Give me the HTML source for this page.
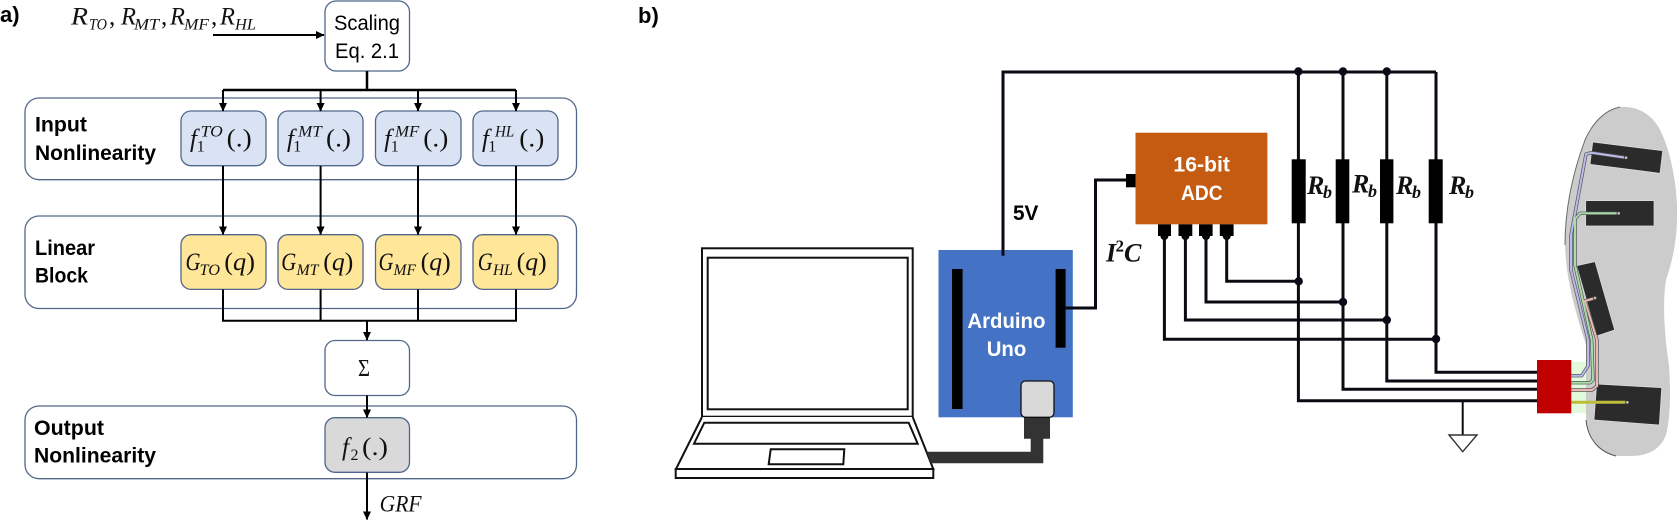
<!DOCTYPE html>
<html><head><meta charset="utf-8"><style>
html,body{margin:0;padding:0;background:#fff;width:1677px;height:521px;overflow:hidden}
svg{display:block}
text{font-family:"Liberation Sans",sans-serif;fill:#000}
.b{font-weight:bold;font-size:21px}
.r{font-size:21px}
.w{font-weight:bold;font-size:21px;fill:#fff}
.m{font-family:"Liberation Serif",serif;font-style:italic;font-size:25px;fill:#111}
.s{font-family:"Liberation Serif",serif;font-style:italic;font-size:15.5px;fill:#111}
.n{font-family:"Liberation Serif",serif;font-size:25px;fill:#111}
.n1{font-family:"Liberation Serif",serif;font-size:16px;fill:#111}
.i{font-style:italic}
.rb{font-family:"Liberation Serif",serif;font-style:italic;font-weight:bold;font-size:26px;fill:#111}
.rs{font-family:"Liberation Serif",serif;font-style:italic;font-weight:bold;font-size:18px;fill:#111}
</style></head><body>
<svg width="1677" height="521" viewBox="0 0 1677 521" xmlns="http://www.w3.org/2000/svg">
<defs><marker id="a" markerWidth="9" markerHeight="8" refX="8" refY="4" orient="auto" markerUnits="userSpaceOnUse"><path d="M0,0L8.5,4L0,8Z" fill="#000"/></marker></defs>

<!-- Panel a groups -->
<g fill="#fff" stroke="#51678a" stroke-width="1.3">
<rect x="25" y="98" width="551.5" height="81.7" rx="14"/>
<rect x="25" y="216" width="551.5" height="92.5" rx="14"/>
<rect x="25" y="406" width="551.5" height="72.7" rx="14"/>
<rect x="325" y="1" width="84.5" height="70" rx="11"/>
<rect x="325" y="340.5" width="84.5" height="55" rx="10"/>
</g>
<g stroke="#51678a" stroke-width="1.3" fill="#DAE3F3">
<rect x="181" y="111" width="85" height="54.7" rx="10"/>
<rect x="278" y="111" width="85" height="54.7" rx="10"/>
<rect x="375.5" y="111" width="85.5" height="54.7" rx="10"/>
<rect x="473" y="111" width="85" height="54.7" rx="10"/>
</g>
<g stroke="#51678a" stroke-width="1.3" fill="#FFE699">
<rect x="181" y="234.7" width="85" height="54.7" rx="10"/>
<rect x="278" y="234.7" width="85" height="54.7" rx="10"/>
<rect x="375.5" y="234.7" width="85.5" height="54.7" rx="10"/>
<rect x="473" y="234.7" width="85" height="54.7" rx="10"/>
</g>
<rect x="325" y="417.7" width="84.5" height="54.6" rx="10" fill="#D9D9D9" stroke="#51678a" stroke-width="1.3"/>

<!-- Panel a connectors -->
<g fill="none" stroke="#000" stroke-width="2">
<path d="M213,35H324" marker-end="url(#a)"/>
<path d="M367,71V90" stroke-width="2.5"/>
<path d="M223,90H516" stroke-width="2.5"/>
<path d="M223,90V111" marker-end="url(#a)"/><path d="M320.6,90V111" marker-end="url(#a)"/><path d="M418,90V111" marker-end="url(#a)"/><path d="M516,90V111" marker-end="url(#a)"/>
<path d="M223,166V234.5" marker-end="url(#a)"/><path d="M320.6,166V234.5" marker-end="url(#a)"/><path d="M418,166V234.5" marker-end="url(#a)"/><path d="M516,166V234.5" marker-end="url(#a)"/>
<path d="M223,289.5V320.7H516V289.5M320.6,289.5V320.7M418,289.5V320.7" stroke-width="2"/>
<path d="M367,320.7V340" marker-end="url(#a)"/>
<path d="M367,395.5V417.5" marker-end="url(#a)"/>
<path d="M367,472.5V519.5" marker-end="url(#a)"/>
</g>

<!-- Panel a text -->
<text x="0" y="22" class="b" style="font-size:22px">a)</text>
<text x="638" y="23" class="b" style="font-size:22px">b)</text>
<text x="35" y="131.7" class="b" textLength="52" lengthAdjust="spacingAndGlyphs">Input</text>
<text x="35" y="160" class="b" textLength="121" lengthAdjust="spacingAndGlyphs">Nonlinearity</text>
<text x="35" y="255" class="b" textLength="60" lengthAdjust="spacingAndGlyphs">Linear</text>
<text x="35" y="282.7" class="b" textLength="53" lengthAdjust="spacingAndGlyphs">Block</text>
<text x="34" y="435" class="b" textLength="70" lengthAdjust="spacingAndGlyphs">Output</text>
<text x="34" y="462.7" class="b" textLength="122" lengthAdjust="spacingAndGlyphs">Nonlinearity</text>
<text x="334" y="30" class="r" textLength="66" lengthAdjust="spacingAndGlyphs">Scaling</text>
<text x="335" y="58" class="r" textLength="64" lengthAdjust="spacingAndGlyphs">Eq. 2.1</text>

<text x="71" y="24.3" class="m" textLength="17" lengthAdjust="spacingAndGlyphs">R</text><text x="89" y="29.3" class="s" textLength="18" lengthAdjust="spacingAndGlyphs">TO</text><text x="109" y="24.3" class="n">,</text>
<text x="121" y="24.3" class="m" textLength="15" lengthAdjust="spacingAndGlyphs">R</text><text x="134" y="29.3" class="s" textLength="25" lengthAdjust="spacingAndGlyphs">MT</text><text x="161" y="24.3" class="n">,</text>
<text x="170" y="24.3" class="m" textLength="15" lengthAdjust="spacingAndGlyphs">R</text><text x="184" y="29.3" class="s" textLength="25" lengthAdjust="spacingAndGlyphs">MF</text><text x="211" y="24.3" class="n">,</text>
<text x="220" y="24.3" class="m" textLength="15" lengthAdjust="spacingAndGlyphs">R</text><text x="235" y="29.3" class="s" textLength="21" lengthAdjust="spacingAndGlyphs">HL</text>

<g>
<text x="190" y="146.7" class="m">f</text><text x="196.7" y="151.7" class="n1">1</text><text x="200.7" y="136.7" class="s" textLength="22" lengthAdjust="spacingAndGlyphs">TO</text><text x="226.7" y="146.7" class="n" textLength="25" lengthAdjust="spacingAndGlyphs">(.)</text>
<text x="287" y="146.7" class="m">f</text><text x="293.3" y="151.7" class="n1">1</text><text x="298.3" y="136.7" class="s" textLength="23.4" lengthAdjust="spacingAndGlyphs">MT</text><text x="326" y="146.7" class="n" textLength="25" lengthAdjust="spacingAndGlyphs">(.)</text>
<text x="384.3" y="146.7" class="m">f</text><text x="390.7" y="151.7" class="n1">1</text><text x="395" y="136.7" class="s" textLength="24.3" lengthAdjust="spacingAndGlyphs">MF</text><text x="423.3" y="146.7" class="n" textLength="25" lengthAdjust="spacingAndGlyphs">(.)</text>
<text x="482" y="146.7" class="m">f</text><text x="488.3" y="151.7" class="n1">1</text><text x="495" y="136.7" class="s" textLength="19.3" lengthAdjust="spacingAndGlyphs">HL</text><text x="519.3" y="146.7" class="n" textLength="25" lengthAdjust="spacingAndGlyphs">(.)</text>

<text x="185.5" y="270" class="m" textLength="15" lengthAdjust="spacingAndGlyphs">G</text><text x="199.5" y="275" class="s" textLength="20.5" lengthAdjust="spacingAndGlyphs">TO</text><text x="224.3" y="270" class="n" textLength="30.7" lengthAdjust="spacingAndGlyphs">(<tspan class="i">q</tspan>)</text>
<text x="281.2" y="270" class="m" textLength="15" lengthAdjust="spacingAndGlyphs">G</text><text x="296.5" y="275" class="s" textLength="22" lengthAdjust="spacingAndGlyphs">MT</text><text x="323.3" y="270" class="n" textLength="30" lengthAdjust="spacingAndGlyphs">(<tspan class="i">q</tspan>)</text>
<text x="378.5" y="270" class="m" textLength="15" lengthAdjust="spacingAndGlyphs">G</text><text x="393.5" y="275" class="s" textLength="22.5" lengthAdjust="spacingAndGlyphs">MF</text><text x="420.7" y="270" class="n" textLength="30" lengthAdjust="spacingAndGlyphs">(<tspan class="i">q</tspan>)</text>
<text x="477.8" y="270" class="m" textLength="15" lengthAdjust="spacingAndGlyphs">G</text><text x="493" y="275" class="s" textLength="19.7" lengthAdjust="spacingAndGlyphs">HL</text><text x="516.7" y="270" class="n" textLength="30" lengthAdjust="spacingAndGlyphs">(<tspan class="i">q</tspan>)</text>

<text x="342" y="455" class="m">f</text><text x="350.5" y="460" class="n1">2</text><text x="362" y="455" class="n" textLength="26" lengthAdjust="spacingAndGlyphs">(.)</text>
<text x="358" y="376" class="n" textLength="12" lengthAdjust="spacingAndGlyphs" style="font-size:24px">Σ</text>
<text x="379.6" y="511.7" class="m" textLength="42" lengthAdjust="spacingAndGlyphs" style="font-size:23px">GRF</text>
</g>

<!-- Panel b: laptop -->
<g fill="#fff" stroke="#111" stroke-width="2">
<rect x="702" y="248.3" width="210.7" height="168.4"/>
<rect x="707.7" y="257.7" width="200" height="151.6"/>
<path d="M702,417L676,469H933.3L912.7,417"/>
<rect x="675.7" y="469" width="257.6" height="9"/>
<path d="M704.3,422.7H908.7L917.7,443.7H694Z"/>
<path d="M770.7,449.3H844.3L843.3,464.3H768.7Z"/>
</g>

<!-- cable -->
<path d="M926.7,451.7H1030.7V438.7H1024V417H1050V438.7H1043.3V463.3H931Z" fill="#333"/>

<!-- Arduino -->
<rect x="938.5" y="250" width="134.3" height="167.3" fill="#4472C4"/>
<rect x="952" y="269" width="10.6" height="140" fill="#000"/>
<rect x="1055.6" y="269" width="10" height="78.7" fill="#000"/>
<rect x="1021" y="381" width="33" height="36.3" rx="4.5" fill="#D9D9D9" stroke="#111" stroke-width="1.3"/>
<text x="967.4" y="328" class="w" textLength="78" lengthAdjust="spacingAndGlyphs">Arduino</text>
<text x="986.7" y="356" class="w" textLength="39.6" lengthAdjust="spacingAndGlyphs">Uno</text>

<!-- ADC -->
<rect x="1135.5" y="132.7" width="131.9" height="91.6" fill="#C55A11"/>
<rect x="1126" y="174" width="9.5" height="13.3" fill="#000"/>
<g fill="#000">
<rect x="1158" y="224.3" width="13" height="11.7"/><rect x="1178.5" y="224.3" width="13.8" height="11.7"/><rect x="1199" y="224.3" width="13.6" height="11.7"/><rect x="1219.8" y="224.3" width="13.8" height="11.7"/>
<circle cx="1164.4" cy="236" r="4"/><circle cx="1185.4" cy="236" r="4"/><circle cx="1206" cy="236" r="4"/><circle cx="1226.7" cy="236" r="4"/>
</g>
<text x="1173.4" y="171.7" class="w" textLength="56.6" lengthAdjust="spacingAndGlyphs">16-bit</text>
<text x="1181" y="200" class="w" textLength="41.6" lengthAdjust="spacingAndGlyphs">ADC</text>

<!-- Insole -->
<path d="M1620,107C1635,106 1650,112 1659,128C1670,148 1676,180 1677,205C1678,240 1672,262 1666,280C1662,305 1665,340 1669,365C1671,395 1670,420 1666,435C1660,450 1648,456 1630,456L1616,456C1600,452 1588,440 1586,420L1586,345C1575,310 1566,280 1565,245C1565,210 1572,175 1585,140C1593,122 1605,110 1620,107Z" fill="#CCCCCC"/>
<path d="M1565,245C1565,210 1572,175 1585,140C1593,122 1605,110 1620,107" fill="none" stroke="#5f7060" stroke-width="1"/>
<path d="M1586,420C1588,440 1600,452 1616,456" fill="none" stroke="#555" stroke-width="1"/>
<rect x="1571" y="361.7" width="15" height="51.3" fill="#E2F9DC"/>
<g fill="#2B2B2B" stroke="#e0e0e0" stroke-width="0.7">
<path d="M1592.7,142L1662.7,150.7L1660,173.3L1590,164.3Z"/>
<path d="M1585.7,200.7H1654V226H1585.7Z"/>
<path d="M1576.7,265.7L1595,261.7L1614.7,330L1596.7,336Z"/>
<path d="M1596.7,384L1661.7,387.7L1659.3,425L1594,420Z"/>
</g>
<!-- wires -->
<g fill="none" stroke-linejoin="round">
<g stroke="#555" stroke-width="3.4">
<path d="M1626,157.7L1591.7,152.7L1586,154L1571,235V270L1588,340V366L1581.7,375.7H1571"/>
<path d="M1618.7,213.3H1580L1575,219V265L1591.7,340L1593,380L1590,382.7H1571"/>
<path d="M1595,298L1585,301L1597,340V386L1592,390H1571"/>
</g>
<path d="M1626,157.7L1591.7,152.7L1586,154L1571,235V270L1588,340V366L1581.7,375.7H1571" stroke="#B9BBEE" stroke-width="2"/>
<path d="M1618.7,213.3H1580L1575,219V265L1591.7,340L1593,380L1590,382.7H1571" stroke="#A8DDA8" stroke-width="2"/>
<path d="M1595,298L1585,301L1597,340V386L1592,390H1571" stroke="#EDB8B4" stroke-width="2"/>
<path d="M1571,402.3H1627.3" stroke="#BDBD3C" stroke-width="3"/>
</g>
<g fill="#bbb" stroke="#222" stroke-width="0.7">
<circle cx="1626" cy="157.7" r="1.8"/><circle cx="1618.7" cy="213.3" r="1.8"/><circle cx="1595" cy="298" r="1.8"/><circle cx="1627.3" cy="402.3" r="1.8"/>
</g>
<rect x="1537" y="360" width="34.3" height="53.3" fill="#C00000"/>

<!-- Wires panel b -->
<g fill="none" stroke="#0a0a12" stroke-width="3">
<path d="M1003,255.7V72H1436"/>
<path d="M1298.4,72V400.7H1537"/>
<path d="M1343,72V389.3H1537"/>
<path d="M1386.8,72V381H1537"/>
<path d="M1436,72V372.3H1537"/>
<path d="M1065.6,308H1095.5V180H1126"/>
<path d="M1226.7,236V281.3H1298.4"/>
<path d="M1206,236V302H1343"/>
<path d="M1185.4,236V320H1386.8"/>
<path d="M1164.4,236V339.3H1436"/>
<path d="M1462.7,401V435" stroke-width="2"/>
</g>
<path d="M1449,435H1477L1462.7,451.7Z" fill="#fff" stroke="#333" stroke-width="1.4"/>
<g fill="#000">
<rect x="1291.7" y="159.3" width="14" height="64"/>
<rect x="1335.7" y="159.3" width="13.6" height="64"/>
<rect x="1380" y="159.3" width="13.4" height="64"/>
<rect x="1428.7" y="159.3" width="14" height="64"/>
</g>
<g fill="#0a0a18">
<circle cx="1298.4" cy="71.5" r="4.2"/><circle cx="1343" cy="71.5" r="4.2"/><circle cx="1386.8" cy="71.5" r="4.2"/>
<circle cx="1298.7" cy="281.3" r="4.2"/><circle cx="1343" cy="302" r="4.2"/><circle cx="1386.8" cy="320" r="4.2"/><circle cx="1436" cy="339" r="4.2"/>
</g>

<text x="1013" y="220" class="b" textLength="25.4" lengthAdjust="spacingAndGlyphs">5V</text>
<text x="1106" y="261.7" class="rb">I</text><text x="1115.5" y="251.7" class="n1" style="font-weight:bold;font-size:17px">2</text><text x="1124" y="261.7" class="rb">C</text>
<text x="1307" y="194" class="rb">R</text><text x="1323" y="198" class="rs">b</text>
<text x="1352" y="192.7" class="rb">R</text><text x="1368" y="197" class="rs">b</text>
<text x="1396" y="194" class="rb">R</text><text x="1412" y="198" class="rs">b</text>
<text x="1449" y="194" class="rb">R</text><text x="1465" y="198" class="rs">b</text>
</svg>
</body></html>
